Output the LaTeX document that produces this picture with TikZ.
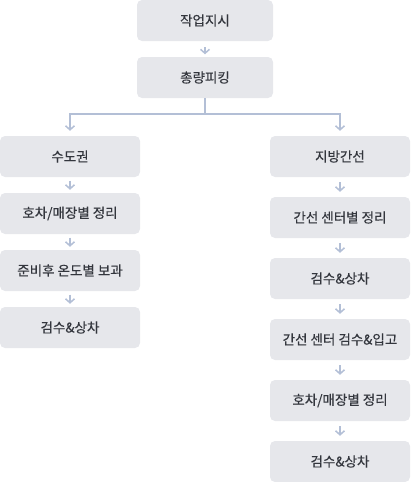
\documentclass[tikz,border=0pt]{standalone}
\usepackage{fontspec}
\setmainfont{Noto Sans CJK KR}
\newfontfamily\stagefont{Noto Sans CJK KR}[BoldFont={Noto Sans CJK KR}, BoldFeatures={FakeBold=0.4}]
\usetikzlibrary{positioning,arrows.meta}
\definecolor{boxgray}{HTML}{E6E7EB}
\definecolor{linkblue}{HTML}{B3BFD6}
\definecolor{textgray}{HTML}{33363D}
\begin{document}
\begin{tikzpicture}[x=1pt, y=1pt,
    stage/.style = {fill=boxgray, rounded corners=5pt, minimum height=41pt, inner sep=0pt, text=textgray, font=\stagefont\bfseries\fontsize{13.5pt}{15pt}\selectfont},
    link/.style = {draw=linkblue, line width=1.5pt},
    flow/.style = {link, -{Straight Barb[length=4pt, width=9pt, line width=1.5pt]}}]
    \useasboundingbox (0,0) rectangle (410,-482);
    \node [stage, minimum width=136pt] (order) at (205,-20.5) {작업지시};
    \node [stage, minimum width=136pt, node distance=57pt, below of=order] (pick) {총량피킹};
    % left branch
    \node [stage, minimum width=140pt] (metro) at (70,-156.5) {수도권};
    \node [stage, minimum width=140pt, node distance=57pt, below of=metro] (msort) {호차/매장별 정리};
    \node [stage, minimum width=140pt, node distance=57pt, below of=msort] (mkeep) {준비후 온도별 보과};
    \node [stage, minimum width=140pt, node distance=57pt, below of=mkeep] (mload) {검수\&상차};
    % right branch
    \node [stage, minimum width=140pt] (trunk) at (340,-156.5) {지방간선};
    \node [stage, minimum width=140pt, node distance=61pt, below of=trunk] (tsort) {간선 센터별 정리};
    \node [stage, minimum width=140pt, node distance=61pt, below of=tsort] (tload) {검수\&상차};
    \node [stage, minimum width=140pt, node distance=61pt, below of=tload] (tin) {간선 센터 검수\&입고};
    \node [stage, minimum width=140pt, node distance=61pt, below of=tin] (tstore) {호차/매장별 정리};
    \node [stage, minimum width=140pt, node distance=61pt, below of=tstore] (tship) {검수\&상차};
    \coordinate (split) at (205,-114);
    \draw [flow, shorten <=6pt, shorten >=2.5pt] (order) -- (pick);
    \draw [link] (pick) -- (split);
    \draw [flow, shorten >=5pt] (split) -| (metro);
    \draw [flow, shorten >=5pt] (split) -| (trunk);
    \draw [flow, shorten <=3.5pt, shorten >=3pt] (metro) -- (msort);
    \draw [flow, shorten <=3.5pt, shorten >=3pt] (msort) -- (mkeep);
    \draw [flow, shorten <=3.5pt, shorten >=3pt] (mkeep) -- (mload);
    \draw [flow, shorten <=5pt, shorten >=5pt] (trunk) -- (tsort);
    \draw [flow, shorten <=5pt, shorten >=5pt] (tsort) -- (tload);
    \draw [flow, shorten <=5pt, shorten >=5pt] (tload) -- (tin);
    \draw [flow, shorten <=5pt, shorten >=5pt] (tin) -- (tstore);
    \draw [flow, shorten <=5pt, shorten >=5pt] (tstore) -- (tship);
\end{tikzpicture}
\end{document}
